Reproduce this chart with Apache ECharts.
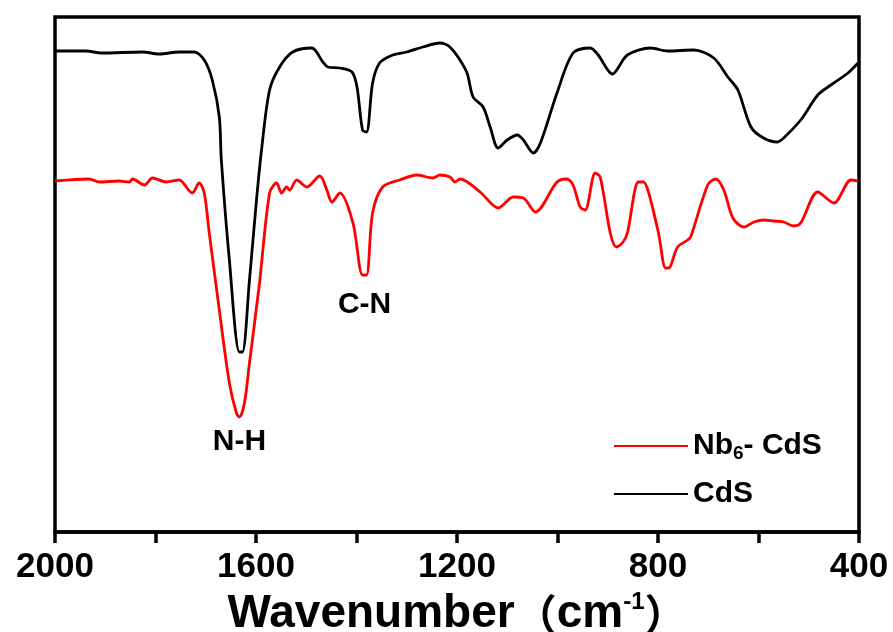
<!DOCTYPE html>
<html>
<head>
<meta charset="utf-8">
<script src="https://cdn.jsdelivr.net/npm/echarts@6/dist/echarts.min.js"></script>
<style>
  html, body { margin: 0; padding: 0; background: #fff; }
  #ftirChart { width: 893px; height: 632px; }
</style>
</head>
<body>
<div id="ftirChart"></div>
<script>
// 坐标轴刻度
var tickLabels = [2000, 1600, 1200, 800, 400]

// CdS 曲线 (波数, 透过率 a.u.)
var cdsWn = [2000, 1938, 1908, 1826, 1793, 1753, 1723, 1703, 1687, 1673, 1669, 1653, 1633, 1627, 1613, 1599, 1589, 1573,
  1553, 1527, 1489, 1467, 1457, 1433, 1409, 1399, 1388, 1380, 1368, 1354, 1328, 1300, 1268, 1234, 1224, 1214, 1198,
  1180, 1168, 1148, 1134, 1118, 1100, 1080, 1068, 1048, 1034, 1001, 969, 935, 919, 891, 861, 815, 781, 729, 689, 661,
  641, 615, 590, 562, 550, 516, 482, 456, 422, 402]
var cdsT = [492, 492, 490, 491, 489, 491, 491, 483, 463, 426, 383, 283, 191, 191, 263, 343, 393, 453,
  476, 491, 495, 481, 476, 475, 471, 456, 413, 411, 460, 480, 488, 491, 496, 500, 499, 496, 486,
  470, 446, 436, 416, 395, 403, 408, 403, 390, 400, 450, 490, 495, 488, 469, 488, 495, 492, 493, 485, 466,
  453, 416, 405, 401, 405, 423, 448, 458, 470, 480]

// Nb6-CdS 曲线
var nbWn = [2000, 1932, 1912, 1872, 1852, 1846, 1822, 1806, 1779, 1753, 1727, 1713, 1703, 1693, 1673, 1653, 1639, 1633,
  1623, 1613, 1593, 1573, 1559, 1549, 1539, 1533, 1519, 1499, 1473, 1459, 1449, 1433, 1407, 1388, 1380, 1368, 1348,
  1314, 1280, 1248, 1234, 1214, 1204, 1194, 1154, 1118, 1088, 1068, 1044, 1001, 981, 969, 955, 945, 925, 915, 895,
  883, 871, 861, 839, 829, 819, 799, 785, 779, 761, 741, 735, 701, 685, 669, 651, 629, 609, 589, 570, 550, 530, 516,
  482, 450, 416, 402]
var nbT = [362, 364, 361, 362, 361, 364, 358, 365, 361, 363, 350, 360, 350, 310, 233, 160, 130, 126,
  140, 180, 260, 350, 360, 350, 356, 353, 363, 356, 367, 353, 341, 350, 320, 268, 268, 330, 356,
  363, 368, 365, 368, 366, 361, 364, 351, 335, 346, 345, 331, 361, 364, 358, 336, 333, 370, 366, 310,
  296, 300, 310, 361, 361, 351, 310, 275, 275, 296, 303, 306, 358, 364, 353, 325, 316, 321, 323, 322, 321, 317, 320,
  351, 340, 363, 362]

function pairs(xs, ys) {
  return xs.map(function(x, i) { return [x, ys[i]] })
}

var chart = echarts.init(document.getElementById('ftirChart'))
var fontFamily = '"Liberation Sans", Arial, sans-serif'

// 图例文字样式
var legendText = {
  fontFamily: fontFamily,
  rich: {
    b: { fontSize: 30, fontWeight: 'bold', color: '#000', fontFamily: fontFamily },
    s: { fontSize: 19, fontWeight: 'bold', color: '#000', verticalAlign: 'bottom', padding: [16, 0, 0, 0], fontFamily: fontFamily }
  }
}
function legendFormatter(name) {
  if (name === 'Nb6-CdS') return '{b|Nb}{s|6}{b|- CdS}'
  return '{b|CdS}'
}

var option = {
  animation: false,
  backgroundColor: '#fff',
  grid: {
    left: 55,
    right: 34,
    top: 17,
    bottom: 100,
    outerBoundsMode: 'none',
    containLabel: false,
    show: true,
    borderColor: '#000',
    borderWidth: 3.5
  },
  legend: [
    {
      left: 608,
      top: 426,
      itemWidth: 74,
      itemHeight: 4,
      itemGap: 8,
      data: ['Nb6-CdS'],
      itemStyle: { opacity: 0 },
      formatter: legendFormatter,
      textStyle: legendText
    },
    {
      left: 608,
      top: 474,
      itemWidth: 74,
      itemHeight: 4,
      itemGap: 8,
      data: ['CdS'],
      itemStyle: { opacity: 0 },
      formatter: legendFormatter,
      textStyle: legendText
    }
  ],
  xAxis: {
    type: 'value',
    min: 400,
    max: 2000,
    interval: 200,
    inverse: true,
    name: '{t|Wavenumber}{p|（}{t|cm}{sup|-1}{p|）}',
    nameLocation: 'middle',
    nameGap: 57,
    nameTextStyle: {
      rich: {
        t: { fontSize: 46, fontWeight: 'bold', color: '#000', fontFamily: fontFamily },
        p: { fontSize: 42, fontWeight: 'bold', color: '#000', fontFamily: '"Noto Sans CJK SC", sans-serif' },
        sup: { fontSize: 24, fontWeight: 'bold', color: '#000', verticalAlign: 'top', padding: [0, 0, 24, 0], fontFamily: fontFamily }
      }
    },
    splitLine: { show: false },
    axisLine: { lineStyle: { color: '#000', width: 3.5 } },
    axisTick: { inside: false, length: 11, lineStyle: { color: '#000', width: 3.5 } },
    axisLabel: {
      margin: 18,
      color: '#000',
      fontSize: 35,
      fontWeight: 'bold',
      fontFamily: fontFamily,
      formatter: function(v) {
        return tickLabels.indexOf(v) >= 0 ? String(v) : ''
      }
    }
  },
  yAxis: {
    type: 'value',
    min: 11,
    max: 526,
    show: false,
    splitLine: { show: false }
  },
  series: [
    {
      name: 'CdS',
      type: 'line',
      data: pairs(cdsWn, cdsT),
      showSymbol: false,
      symbol: 'none',
      smooth: 0.3,
      lineStyle: { color: '#000', width: 2.8 },
      itemStyle: { color: '#000' }
    },
    {
      name: 'Nb6-CdS',
      type: 'line',
      data: pairs(nbWn, nbT),
      showSymbol: false,
      symbol: 'none',
      smooth: 0.3,
      lineStyle: { color: '#ff0000', width: 2.8 },
      itemStyle: { color: '#ff0000' },
      markPoint: {
        symbol: 'circle',
        symbolSize: 1,
        itemStyle: { color: 'rgba(0,0,0,0)' },
        label: {
          show: true,
          position: 'bottom',
          color: '#000',
          fontSize: 30,
          fontWeight: 'bold',
          fontFamily: fontFamily
        },
        data: [
          { coord: [1633, 126], label: { formatter: 'N-H', distance: 9 } },
          { coord: [1384, 268], label: { formatter: 'C-N', distance: 14 } }
        ]
      }
    }
  ]
}

chart.setOption(option)
</script>
</body>
</html>
